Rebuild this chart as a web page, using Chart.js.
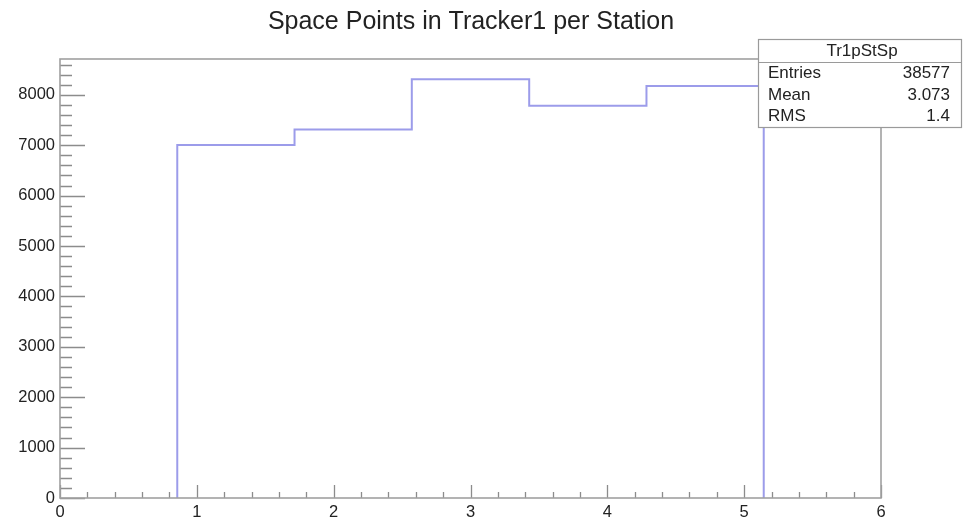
<!DOCTYPE html>
<html>
<head>
<meta charset="utf-8">
<script src="https://cdn.jsdelivr.net/npm/chart.js@4/dist/chart.umd.min.js"></script>
<style>
  html, body { margin: 0; padding: 0; background: #ffffff; }
  #wrap { width: 963px; height: 518px; }
</style>
</head>
<body>
<div id="wrap"><canvas id="c" width="963" height="518"></canvas></div>
<script>
// Histogram Tr1pStSp: 7 bins over [0, 6], stations 1..5 filled
const chartTitle = "Space Points in Tracker1 per Station";
const histName = "Tr1pStSp";
const binEdges = [0.857, 1.714, 2.571, 3.429, 4.286, 5.143];
const binCounts = [7005, 7310, 8310, 7780, 8172];
const statLabels = ["Entries", "Mean", "RMS"];
const statValues = ["38577", "3.073", "1.4"];
const xRange = [0, 6];
const yRange = [0, 8710];
const xMajorStep = 1, xMinorStep = 0.2;
const yMajorStep = 1000, yMinorStep = 200;

// Outline of the step histogram, built from edges and counts
const outline = [{ x: binEdges[0], y: 0 }];
binCounts.forEach((c, i) => {
  outline.push({ x: binEdges[i], y: c });
  outline.push({ x: binEdges[i + 1], y: c });
});
outline.push({ x: binEdges[binEdges.length - 1], y: 0 });

const FONT = "'Liberation Sans', Arial, Helvetica, sans-serif";
const TEXT = "#222222";
const AXIS = "#8c8c8c";

// Title, frame, inward tick marks and the statistics box
const framePlugin = {
  id: "frame",
  afterDatasetsDraw(chart) {
    const { ctx, chartArea: a, scales: { x, y } } = chart;
    ctx.save();
    ctx.strokeStyle = AXIS;
    ctx.lineWidth = 1.3;
    ctx.beginPath();
    for (let v = yRange[0]; v <= yRange[1] + 1e-6; v += yMinorStep) {
      const major = Math.abs(v / yMajorStep - Math.round(v / yMajorStep)) < 1e-6;
      const py = Math.round(y.getPixelForValue(v)) + 0.5;
      ctx.moveTo(a.left, py);
      ctx.lineTo(a.left + (major ? 25 : 12), py);
    }
    for (let v = xRange[0]; v <= xRange[1] + 1e-6; v += xMinorStep) {
      const major = Math.abs(v / xMajorStep - Math.round(v / xMajorStep)) < 1e-6;
      const px = Math.round(x.getPixelForValue(v)) + 0.5;
      ctx.moveTo(px, a.bottom);
      ctx.lineTo(px, a.bottom - (major ? 13 : 6));
    }
    ctx.stroke();
    ctx.lineWidth = 1.6;
    ctx.strokeStyle = "#a0a0a0";
    ctx.strokeRect(a.left, a.top, a.right - a.left, a.bottom - a.top);
    ctx.restore();
  },
  afterDraw(chart) {
    const { ctx } = chart;
    ctx.save();
    ctx.fillStyle = TEXT;
    ctx.textBaseline = "middle";
    ctx.textAlign = "center";
    ctx.font = "25px " + FONT;
    ctx.fillText(chartTitle, 471, 22);

    const bx = 758, by = 39, bw = 204, bh = 88, hh = 23;
    ctx.fillStyle = "#ffffff";
    ctx.fillRect(bx, by, bw, bh);
    ctx.strokeStyle = "#9a9a9a";
    ctx.lineWidth = 1.2;
    ctx.strokeRect(bx + 0.5, by + 0.5, bw - 1, bh);
    ctx.beginPath();
    ctx.moveTo(bx, by + hh + 0.5);
    ctx.lineTo(bx + bw, by + hh + 0.5);
    ctx.stroke();
    ctx.fillStyle = TEXT;
    ctx.font = "17px " + FONT;
    ctx.textAlign = "center";
    ctx.fillText(histName, bx + bw / 2 + 2, by + 12);
    const rows = [73, 95, 116];
    statLabels.forEach((lab, i) => {
      ctx.textAlign = "left";
      ctx.fillText(lab, bx + 10, rows[i]);
      ctx.textAlign = "right";
      ctx.fillText(statValues[i], bx + bw - 12, rows[i]);
    });
    ctx.restore();
  }
};

new Chart(document.getElementById("c"), {
  type: "line",
  data: {
    datasets: [{
      data: outline,
      borderColor: "#9c9cea",
      borderWidth: 2,
      pointRadius: 0,
      fill: false,
      tension: 0
    }]
  },
  options: {
    responsive: false,
    animation: false,
    layout: { padding: { top: 59, right: 82, left: 0, bottom: 0 } },
    plugins: {
      legend: { display: false },
      tooltip: { enabled: false },
      title: { display: false }
    },
    scales: {
      x: {
        type: "linear",
        min: xRange[0],
        max: xRange[1],
        grid: { display: false, drawTicks: false },
        border: { display: false },
        afterFit(s) { s.height = 20; },
        ticks: {
          stepSize: xMajorStep,
          color: TEXT,
          padding: 5,
          maxRotation: 0,
          font: { family: FONT, size: 16.5 },
          callback: (v) => String(v)
        }
      },
      y: {
        type: "linear",
        min: yRange[0],
        max: yRange[1],
        grid: { display: false, drawTicks: false },
        border: { display: false },
        afterFit(s) { s.width = 60; },
        afterBuildTicks(s) {
          s.ticks = [];
          for (let v = yRange[0]; v <= yRange[1]; v += yMajorStep) s.ticks.push({ value: v });
        },
        ticks: {
          color: TEXT,
          padding: 5,
          font: { family: FONT, size: 16.5 },
          callback: (v) => String(v)
        }
      }
    }
  },
  plugins: [framePlugin]
});
</script>
</body>
</html>
